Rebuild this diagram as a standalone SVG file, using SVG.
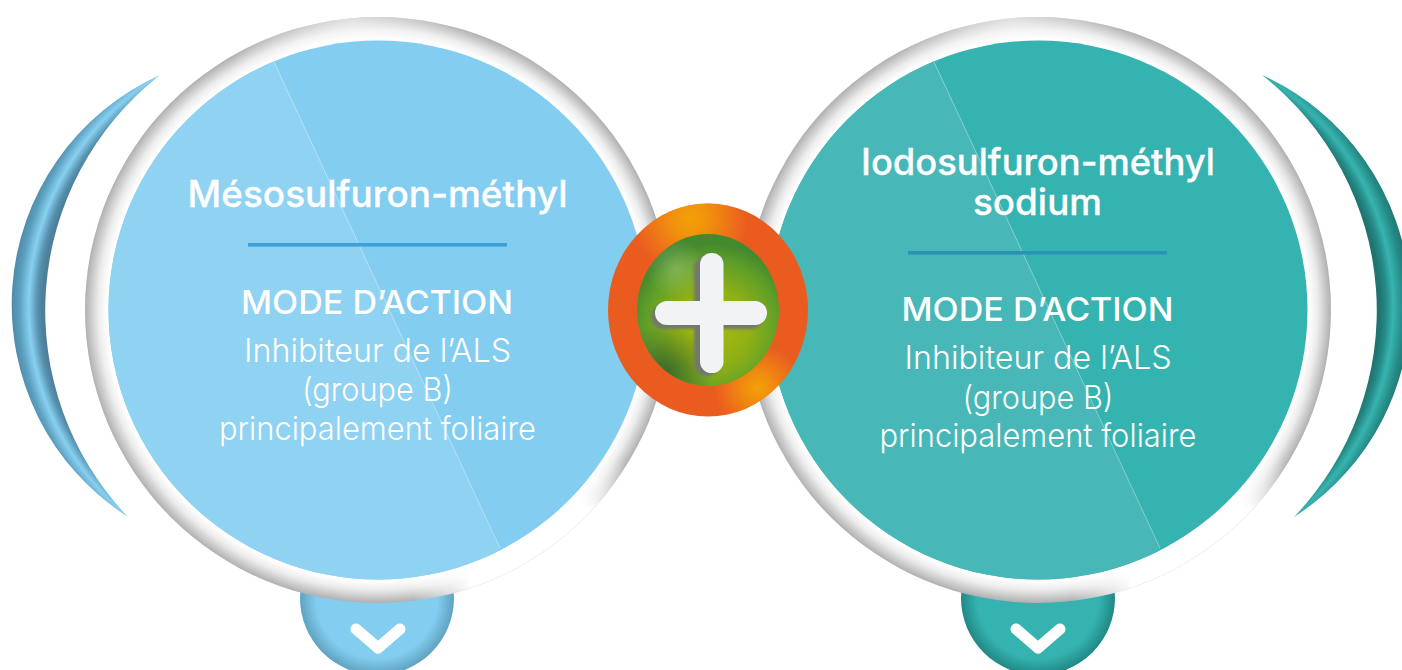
<svg xmlns="http://www.w3.org/2000/svg" width="1402" height="670" viewBox="0 0 1402 670">
<style>
text{fill:#fff;text-anchor:middle}
.title{font-family:Inter,"Liberation Sans",Arial,sans-serif;font-size:36.500px;font-weight:500;stroke:#fff;stroke-width:.3px}
.mode{font-family:Inter,"Liberation Sans",Arial,sans-serif;font-size:33px;font-weight:500}
.body{font-family:Inter,"Liberation Sans",sans-serif;font-weight:300;font-size:33px}
.chev{fill:none;stroke:#fff;stroke-width:11;stroke-linecap:round;stroke-linejoin:round}
.ring{fill:url(#ringG)}
.diag{stroke:#fff;stroke-opacity:.45;stroke-width:.8;fill:none}
</style>
<defs>
<radialGradient id="ringG" cx=".5" cy=".5" r=".5">
<stop offset=".925" stop-color="#fff"/><stop offset=".955" stop-color="#ececec"/><stop offset="1" stop-color="#b0b0b0"/>
</radialGradient>
<radialGradient id="fadeLow">
<stop offset=".55" stop-color="#fff"/><stop offset="1" stop-color="#fff" stop-opacity="0"/>
</radialGradient>
<radialGradient id="fadeTop">
<stop offset="0" stop-color="#fff" stop-opacity=".6"/><stop offset="1" stop-color="#fff" stop-opacity="0"/>
</radialGradient>
<radialGradient id="cresL" gradientUnits="userSpaceOnUse" cx="299.500" cy="307" r="310">
<stop offset=".83" stop-color="#4e7f99"/><stop offset=".845" stop-color="#5590ad"/><stop offset=".873" stop-color="#88d0f0"/><stop offset=".905" stop-color="#5a9dbd"/><stop offset=".93" stop-color="#4f89a6"/>
</radialGradient>
<radialGradient id="cresR" gradientUnits="userSpaceOnUse" cx="1122.500" cy="307" r="310">
<stop offset=".83" stop-color="#1f7470"/><stop offset=".85" stop-color="#258a86"/><stop offset=".873" stop-color="#37b4b0"/><stop offset=".905" stop-color="#258a86"/><stop offset=".93" stop-color="#1f7470"/>
</radialGradient>
<radialGradient id="tabL" gradientUnits="userSpaceOnUse" cx="377" cy="598" r="78">
<stop offset=".78" stop-color="#82cdf0"/><stop offset="1" stop-color="#5d9fbd"/>
</radialGradient>
<radialGradient id="tabR" gradientUnits="userSpaceOnUse" cx="1038" cy="598" r="78">
<stop offset=".78" stop-color="#35b3b0"/><stop offset="1" stop-color="#1f8582"/>
</radialGradient>
<radialGradient id="orA" gradientUnits="userSpaceOnUse" cx="690" cy="218" r="58">
<stop offset="0" stop-color="#f3a008"/><stop offset=".3" stop-color="#f3a008" stop-opacity=".8"/><stop offset="1" stop-color="#f3a008" stop-opacity="0"/>
</radialGradient>
<radialGradient id="orB" gradientUnits="userSpaceOnUse" cx="758" cy="388" r="44">
<stop offset="0" stop-color="#f3a008"/><stop offset=".3" stop-color="#f3a008" stop-opacity=".75"/><stop offset="1" stop-color="#f3a008" stop-opacity="0"/>
</radialGradient>
<radialGradient id="gr" gradientUnits="userSpaceOnUse" cx="712" cy="328" r="84">
<stop offset="0" stop-color="#a8bb0c"/><stop offset=".45" stop-color="#90b015"/><stop offset=".8" stop-color="#5f9f28"/><stop offset="1" stop-color="#45892e"/>
</radialGradient>
<radialGradient id="grH" gradientUnits="userSpaceOnUse" cx="676" cy="268" r="30">
<stop offset="0" stop-color="#bfd8a0" stop-opacity=".35"/><stop offset="1" stop-color="#bfd8a0" stop-opacity="0"/>
</radialGradient>
<radialGradient id="grD" gradientUnits="userSpaceOnUse" cx="665" cy="372" r="48">
<stop offset="0" stop-color="#2c5a2a" stop-opacity=".75"/><stop offset="1" stop-color="#2c5a2a" stop-opacity="0"/>
</radialGradient>
<filter id="soft" x="-30%" y="-30%" width="160%" height="160%"><feGaussianBlur stdDeviation="1.500"/></filter>
<filter id="tiny" x="-10%" y="-10%" width="120%" height="120%"><feGaussianBlur stdDeviation=".6"/></filter>
<clipPath id="gc"><ellipse cx="708" cy="310" rx="71" ry="76"/></clipPath>
<clipPath id="oc"><ellipse cx="708" cy="310" rx="100" ry="106.500"/></clipPath>
<clipPath id="rL"><circle cx="378" cy="310" r="293"/></clipPath>
<clipPath id="rR"><circle cx="1038" cy="310" r="293"/></clipPath>
<clipPath id="cL"><circle cx="378" cy="310" r="269.500"/></clipPath>
<clipPath id="cR"><circle cx="1038" cy="310" r="269.500"/></clipPath>
</defs>
<rect width="1402" height="670" fill="#fff"/>

<g id="crescent-left"><path d="M160 75A252 252 0 0 0 128 517A299 299 0 0 1 160 75Z" fill="url(#cresL)"/></g>
<g id="crescent-right"><path d="M1262 75A252 252 0 0 1 1294 517A299 299 0 0 0 1262 75Z" fill="url(#cresR)"/></g>

<g id="tab-left"><circle cx="377" cy="598" r="77" fill="url(#tabL)"/><path class="chev" d="M356 629L378 648L400 629"/></g>
<g id="tab-right"><circle cx="1038" cy="598" r="77" fill="url(#tabR)"/><path class="chev" d="M1016 629L1038 648L1060 629"/></g>

<g id="node-left">
<circle class="ring" cx="378" cy="310" r="293"/>
<g clip-path="url(#rL)">
<circle cx="545" cy="570" r="135" fill="url(#fadeLow)"/>
<circle cx="350" cy="15" r="125" fill="url(#fadeTop)"/>
</g>
<g clip-path="url(#cL)">
<rect x="100" y="30" width="560" height="560" fill="#82cdf0"/>
<path d="M100 -314L500 548L500 600L100 600Z" fill="#8fd2f1"/>
<path class="diag" d="M274 62L500 548"/>
</g>
<text class="title" x="377.500" y="207" textLength="380" lengthAdjust="spacingAndGlyphs">Mésosulfuron-méthyl</text>
<rect x="248" y="243" width="259" height="3.600" fill="#3f9fd8"/>
<text class="mode" x="377" y="314" textLength="272" lengthAdjust="spacingAndGlyphs">MODE D’ACTION</text>
<text class="body" x="377.500" y="362" textLength="267" lengthAdjust="spacingAndGlyphs">Inhibiteur de l’ALS</text>
<text class="body" x="377.500" y="401" textLength="151" lengthAdjust="spacingAndGlyphs">(groupe B)</text>
<text class="body" x="377.500" y="440" textLength="317" lengthAdjust="spacingAndGlyphs">principalement foliaire</text>
</g>

<g id="node-right">
<circle class="ring" cx="1038" cy="310" r="293"/>
<g clip-path="url(#rR)">
<circle cx="1205" cy="570" r="135" fill="url(#fadeLow)"/>
<circle cx="1010" cy="15" r="125" fill="url(#fadeTop)"/>
</g>
<g clip-path="url(#cR)">
<rect x="760" y="30" width="560" height="560" fill="#35b3b0"/>
<path d="M760 -314L1160 548L1160 600L760 600Z" fill="#47b7b8"/>
<path class="diag" d="M934 62L1160 548"/>
</g>
<text class="title" x="1038" y="175" textLength="354" lengthAdjust="spacingAndGlyphs">Iodosulfuron-méthyl</text>
<text class="title" x="1037.500" y="215" textLength="129" lengthAdjust="spacingAndGlyphs">sodium</text>
<rect x="908" y="251" width="259" height="3.600" fill="#2a93b5"/>
<text class="mode" x="1037.500" y="321" textLength="272" lengthAdjust="spacingAndGlyphs">MODE D’ACTION</text>
<text class="body" x="1038" y="369" textLength="267" lengthAdjust="spacingAndGlyphs">Inhibiteur de l’ALS</text>
<text class="body" x="1038" y="408.500" textLength="151" lengthAdjust="spacingAndGlyphs">(groupe B)</text>
<text class="body" x="1038" y="447" textLength="317" lengthAdjust="spacingAndGlyphs">principalement foliaire</text>
</g>

<g id="node-plus">
<ellipse cx="708" cy="310" rx="100" ry="106.500" fill="#ea5b20"/>
<g clip-path="url(#oc)">
<rect x="608" y="203" width="200" height="214" fill="url(#orA)"/>
<rect x="608" y="203" width="200" height="214" fill="url(#orB)"/>
</g>
<ellipse cx="708" cy="310" rx="71" ry="76" fill="url(#gr)"/>
<g clip-path="url(#gc)">
<rect x="637" y="234" width="142" height="152" fill="url(#grD)"/>
<rect x="637" y="234" width="142" height="152" fill="url(#grH)"/>
<g fill="#73786c" filter="url(#soft)">
<rect x="694" y="256" width="25" height="120" rx="12"/>
<rect x="651" y="305" width="112" height="24" rx="12"/>
</g>
</g>
<g fill="#f2f3f5" filter="url(#tiny)">
<rect x="700" y="253" width="23.500" height="120" rx="11.500"/>
<rect x="655" y="301" width="112" height="24" rx="12"/>
</g>
</g>
</svg>
